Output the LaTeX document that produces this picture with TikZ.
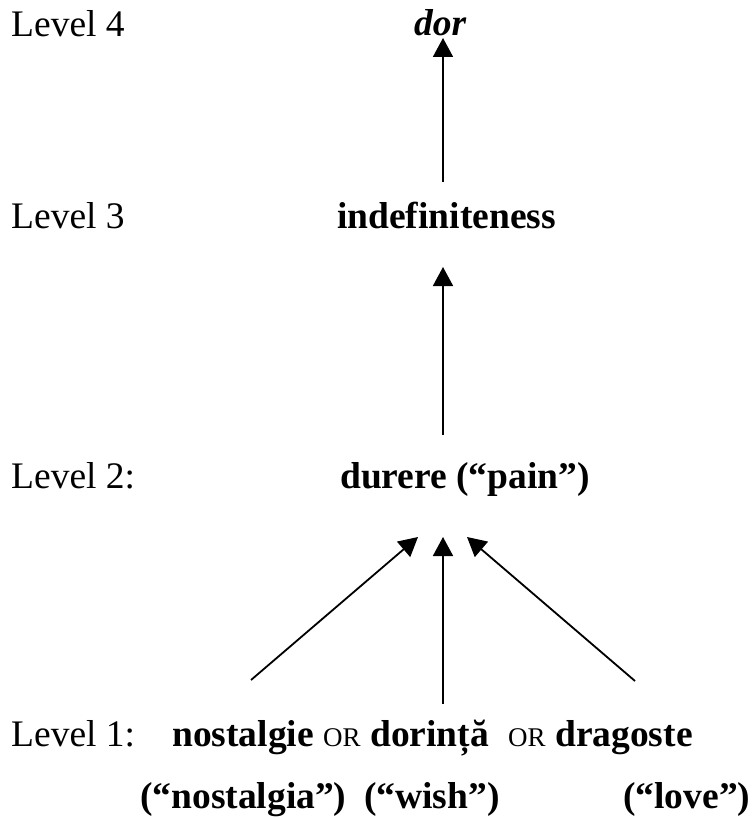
\documentclass[tikz,border=0pt]{standalone}
\usepackage{fontspec}
\setmainfont{Liberation Serif}
\usetikzlibrary{arrows.meta}
\begin{document}
\begin{tikzpicture}[x=1pt,y=-1pt,
  txt/.style={inner sep=0pt,anchor=base west,font=\fontsize{37.5}{45}\selectfont},
  btxt/.style={txt,font=\fontsize{37.5}{45}\selectfont\bfseries},
  ortxt/.style={inner sep=0pt,anchor=base west,font=\fontsize{27}{30}\selectfont},
  arr/.style={line width=1.8pt,-{Triangle[length=19pt,width=20pt]}}]
\useasboundingbox (0,0) rectangle (753,818);
% level labels
\node[txt] (lv4) at (11,37) {Level 4};
\node[txt] (lv3) at (11,229) {Level 3};
\node[txt] (lv2) at (11,488) {Level 2:};
\node[txt] (lv1) at (11,746) {Level 1:};
% terms
\node[btxt,font=\fontsize{37.5}{45}\selectfont\bfseries\itshape] (dor) at (414,36) {dor};
\node[btxt] (indef) at (337,229) {indefiniteness};
\node[btxt] (durere) at (340,488) {durere (“pain”)};
\node[btxt] (nost) at (172,746) {nostalgie};
\node[ortxt] (or1) at (323,746) {OR};
\node[btxt] (dorinta) at (370,746) {dorință};
\node[ortxt] (or2) at (508,746) {OR};
\node[btxt] (drag) at (555,746) {dragoste};
\node[btxt] (nostg) at (140,808) {(“nostalgia”)};
\node[btxt] (wish) at (364,808) {(“wish”)};
\node[btxt] (love) at (623,808) {(“love”)};
% arrow end points
\coordinate (t1) at (443,38);  \coordinate (s1) at (443,182);
\coordinate (t2) at (443,267); \coordinate (s2) at (443,435);
\coordinate (tL) at (418,537); \coordinate (sL) at (251,680);
\coordinate (tM) at (443,537); \coordinate (sM) at (443,704);
\coordinate (tR) at (467,537); \coordinate (sR) at (635,681);
\draw[arr] (s1) -- (t1);
\draw[arr] (s2) -- (t2);
\draw[arr] (sL) -- (tL);
\draw[arr] (sM) -- (tM);
\draw[arr] (sR) -- (tR);
\end{tikzpicture}
\end{document}
